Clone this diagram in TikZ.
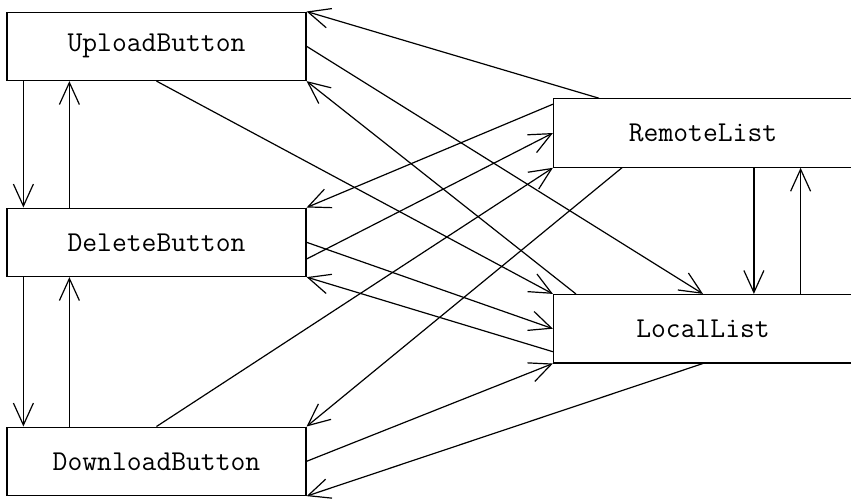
\documentclass[tikz,border=0pt]{standalone}
\usepackage{fontspec}
\usetikzlibrary{arrows.meta}
\begin{document}
\begin{tikzpicture}[x=0.5pt,y=-0.5pt,
  box/.style={draw,line width=0.6pt,minimum width=149.5pt,minimum height=34.2pt,inner sep=0pt,
    font=\ttfamily\fontsize{14.4}{16}\selectfont},
  arr/.style={line width=0.6pt,-{Straight Barb[length=11pt,width=10pt]}}]
\useasboundingbox (0,0) rectangle (851,499);
\clip (0,0) rectangle (851,499);
\node[box] (up) at (156.5,46.3) {UploadButton};
\node[box] (del) at (156.5,242.3) {DeleteButton};
\node[box] (down) at (156.5,461.3) {DownloadButton};
\node[box] (remote) at (703,133) {RemoteList};
\node[box] (local) at (703,328.7) {LocalList};
% vertical
\draw[arr] ([xshift=8.5pt]up.south west) -- ([xshift=8.5pt]del.north west);
\draw[arr] ([xshift=31.5pt]del.north west) -- ([xshift=31.5pt]up.south west);
\draw[arr] ([xshift=8.5pt]del.south west) -- ([xshift=8.5pt]down.north west);
\draw[arr] ([xshift=31.5pt]down.north west) -- ([xshift=31.5pt]del.south west);
\draw[arr] ([xshift=100.5pt]remote.south west) -- ([xshift=100.5pt]local.north west);
\draw[arr] ([xshift=123.85pt]local.north west) -- ([xshift=123.85pt]remote.south west);
% diagonals
\draw[arr] ([xshift=23pt]remote.north west) -- (up.north east);
\draw[arr] (up.east) -- (local.north);
\draw[arr] ([xshift=11.5pt]local.north west) -- (up.south east);
\draw[arr] (up.south) -- (local.north west);
\draw[arr] ([yshift=-3pt]remote.north west) -- (del.north east);
\draw[arr] ([yshift=-8.35pt]del.east) -- (remote.west);
\draw[arr] (del.east) -- (local.west);
\draw[arr] ([yshift=-11.5pt]local.west) -- (del.south east);
\draw[arr] ([xshift=34.5pt]remote.south west) -- (down.north east);
\draw[arr] (down.north) -- (remote.south west);
\draw[arr] (down.east) -- (local.south west);
\draw[arr] (local.south) -- (down.south east);
\end{tikzpicture}
\end{document}
